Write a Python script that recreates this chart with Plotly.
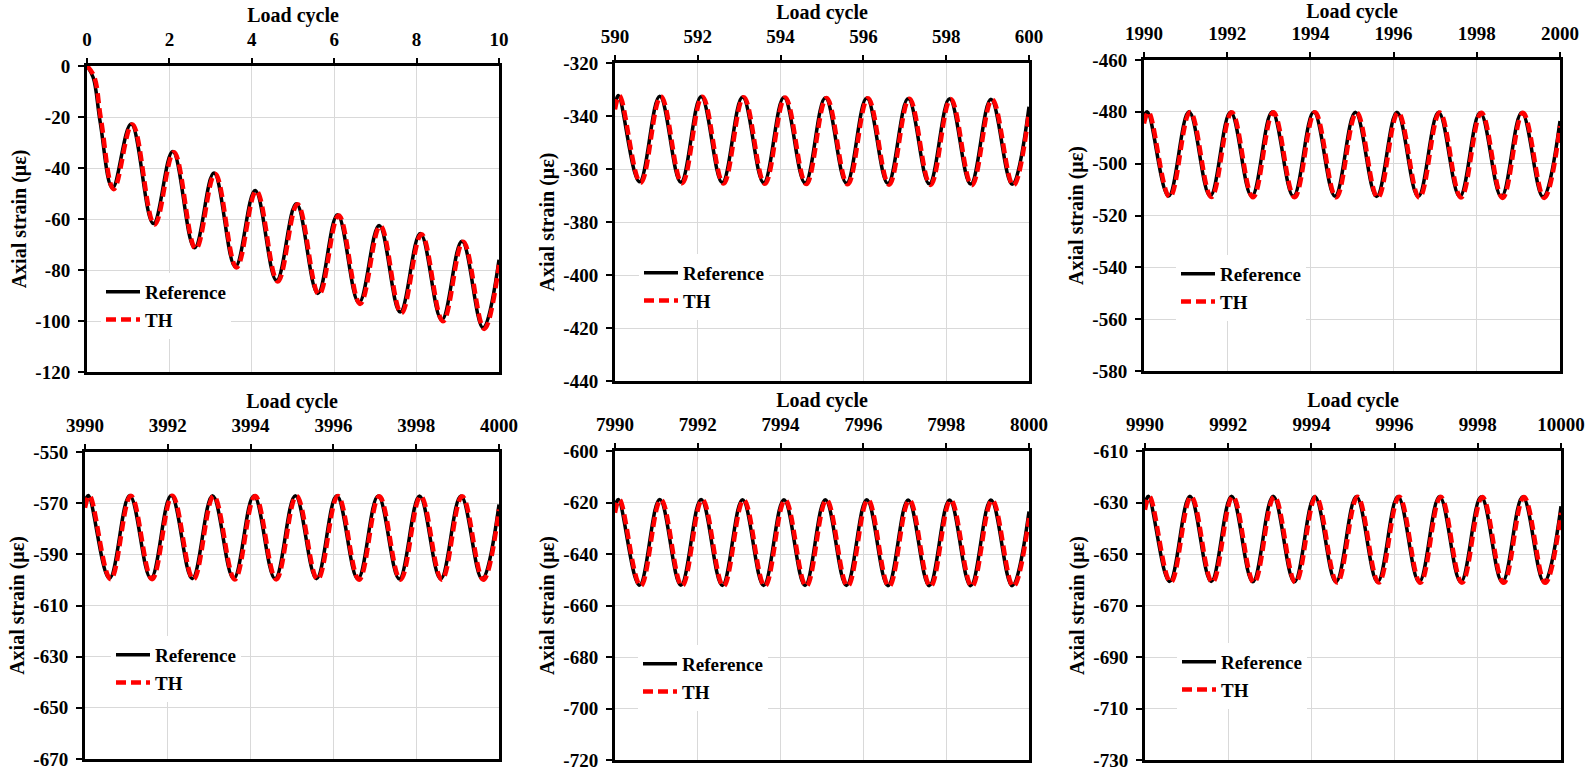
import plotly.graph_objects as go

W, H = 1591, 771

# ---------------- data ----------------
PANEL_START = [0, 590, 1990, 3990, 7990, 9990]

X_TICKS = [
    [0, 2, 4, 6, 8, 10],
    [590, 592, 594, 596, 598, 600],
    [1990, 1992, 1994, 1996, 1998, 2000],
    [3990, 3992, 3994, 3996, 3998, 4000],
    [7990, 7992, 7994, 7996, 7998, 8000],
    [9990, 9992, 9994, 9996, 9998, 10000],
]
Y_TICKS = [
    [0, -20, -40, -60, -80, -100, -120],
    [-320, -340, -360, -380, -400, -420, -440],
    [-460, -480, -500, -520, -540, -560, -580],
    [-550, -570, -590, -610, -630, -650, -670],
    [-600, -620, -640, -660, -680, -700, -720],
    [-610, -630, -650, -670, -690, -710, -730],
]

# panel 1: first ten cycles (positions in cycles, strain in microstrain)
P1_REF_X = [0.0, 0.15, 0.32, 0.62, 1.07, 1.61, 2.08, 2.61, 3.08, 3.60, 4.08, 4.60,
            5.08, 5.60, 6.08, 6.60, 7.09, 7.60, 8.09, 8.61, 9.10, 9.61, 10.0]
P1_REF_Y = [0.0, -4.5, -22.0, -47.8, -22.7, -61.8, -33.5, -71.3, -42.0, -78.7, -48.8, -84.1,
            -54.0, -89.2, -58.3, -92.8, -62.5, -96.5, -65.7, -99.6, -68.7, -102.6, -76.0]
P1_TH_X = [0.0, 0.17, 0.34, 0.65, 1.10, 1.64, 2.11, 2.64, 3.11, 3.63, 4.11, 4.63,
           5.11, 5.63, 6.11, 6.63, 7.12, 7.63, 8.12, 8.64, 9.13, 9.64, 10.0]
P1_TH_Y = [0.0, -4.0, -21.0, -48.3, -22.9, -62.2, -33.8, -71.7, -42.3, -79.0, -49.0, -84.5,
           -54.2, -89.6, -58.6, -93.3, -62.7, -96.9, -66.0, -100.1, -68.9, -103.1, -78.0]

# later panels: start, peak/trough pairs, end (positions in cycles after panel start)
REF_PHASE = [0.0, 0.08, 0.59, 1.08, 1.59, 2.08, 2.59, 3.08, 3.59, 4.08, 4.59, 5.08, 5.59,
             6.08, 6.59, 7.08, 7.59, 8.08, 8.59, 9.08, 9.59, 10.0]
TH_PHASE = [0.0, 0.11, 0.62, 1.11, 1.62, 2.11, 2.62, 3.11, 3.62, 4.11, 4.62, 5.11, 5.62,
            6.11, 6.62, 7.11, 7.62, 8.11, 8.62, 9.11, 9.62, 10.0]

P2_REF = [-336.0, -332.3, -364.8, -332.5, -365.0, -332.6, -365.1, -332.8, -365.2, -332.9, -365.3,
          -333.1, -365.4, -333.2, -365.5, -333.4, -365.6, -333.5, -365.7, -333.7, -365.8, -336.5]
P2_TH = [-337.5, -332.4, -365.2, -332.6, -365.4, -332.7, -365.5, -332.9, -365.6, -333.0, -365.7,
         -333.2, -365.8, -333.3, -365.9, -333.5, -366.0, -333.6, -366.1, -333.8, -366.2, -338.5]
P3_REF = [-481.5, -480.0, -512.5, -480.0, -512.5, -480.1, -512.6, -480.1, -512.6, -480.1, -512.6,
          -480.2, -512.7, -480.2, -512.7, -480.2, -512.7, -480.3, -512.8, -480.3, -512.8, -483.5]
P3_TH = [-484.5, -480.1, -512.9, -480.1, -512.9, -480.2, -513.0, -480.2, -513.0, -480.2, -513.0,
         -480.3, -513.1, -480.3, -513.1, -480.3, -513.1, -480.4, -513.2, -480.4, -513.2, -485.5]
P4_REF = [-569.5, -567.0, -599.4, -567.0, -599.4, -567.0, -599.5, -567.1, -599.5, -567.1, -599.5,
          -567.1, -599.5, -567.1, -599.6, -567.2, -599.6, -567.2, -599.6, -567.2, -599.6, -570.5]
P4_TH = [-571.8, -567.1, -599.7, -567.1, -599.7, -567.1, -599.8, -567.2, -599.8, -567.2, -599.8,
         -567.2, -599.8, -567.2, -599.9, -567.3, -599.9, -567.3, -599.9, -567.3, -599.9, -572.5]
P5_REF = [-621.5, -618.8, -652.1, -618.8, -652.1, -618.8, -652.2, -618.9, -652.2, -618.9, -652.2,
          -618.9, -652.2, -618.9, -652.3, -619.0, -652.3, -619.0, -652.3, -619.0, -652.3, -623.5]
P5_TH = [-624.0, -618.9, -652.4, -618.9, -652.4, -618.9, -652.5, -619.0, -652.5, -619.0, -652.5,
         -619.0, -652.5, -619.0, -652.6, -619.1, -652.6, -619.1, -652.6, -619.1, -652.6, -626.0]
P6_REF = [-630.5, -627.6, -660.7, -627.6, -660.7, -627.6, -660.8, -627.6, -660.8, -627.7, -660.8,
          -627.7, -660.8, -627.7, -660.9, -627.7, -660.9, -627.8, -660.9, -627.8, -660.9, -631.5]
P6_TH = [-632.8, -627.7, -661.0, -627.7, -661.0, -627.7, -661.1, -627.7, -661.1, -627.8, -661.1,
         -627.8, -661.1, -627.8, -661.2, -627.8, -661.2, -627.9, -661.2, -627.9, -661.2, -634.0]

LATER_REF = [P2_REF, P3_REF, P4_REF, P5_REF, P6_REF]
LATER_TH = [P2_TH, P3_TH, P4_TH, P5_TH, P6_TH]

# ---------------- layout constants (pixels) ----------------
# plot boxes: left, right, top, bottom
BOX = [
    (87, 499, 66, 372),
    (615, 1029, 63, 381),
    (1144, 1560, 60, 371),
    (85, 499, 452, 759),
    (615, 1029, 451, 760),
    (1145, 1561, 451, 760),
]
# legend: left of line sample, centre of first row
LEG = [(107, 287), (645, 268), (1182, 269), (117, 650), (644, 659), (1183, 657)]

FONT = "Liberation Serif, Times New Roman, serif"

fig = go.Figure()

series = []
series.append((P1_REF_X, P1_REF_Y, P1_TH_X, P1_TH_Y))
for k in range(5):
    s = PANEL_START[k + 1]
    series.append(([s + p for p in REF_PHASE], LATER_REF[k],
                   [s + p for p in TH_PHASE], LATER_TH[k]))

for i, (rx, ry, tx, ty) in enumerate(series):
    n = "" if i == 0 else str(i + 1)
    leg = "legend" + n
    fig.add_trace(go.Scatter(
        x=rx, y=ry, mode="lines", name="Reference",
        line=dict(color="black", width=3.5, shape="spline", smoothing=1.1),
        xaxis="x" + n, yaxis="y" + n, legend=leg))
    fig.add_trace(go.Scatter(
        x=tx, y=ty, mode="lines", name="TH",
        line=dict(color="#ff0000", width=4.5, dash="10px,5px", shape="spline", smoothing=1.1),
        xaxis="x" + n, yaxis="y" + n, legend=leg))

layout = dict(
    width=W, height=H,
    margin=dict(l=0, r=0, t=0, b=0),
    paper_bgcolor="white", plot_bgcolor="white",
    font=dict(family=FONT, size=19, color="black", weight="bold"),
)

for i in range(6):
    n = "" if i == 0 else str(i + 1)
    l, r, t, b = BOX[i]
    yt = Y_TICKS[i]
    xt = X_TICKS[i]
    layout["xaxis" + n] = dict(
        domain=[l / W, r / W], anchor="y" + n, side="top",
        range=[xt[0], xt[-1]],
        tickvals=xt, ticktext=[str(v) for v in xt],
        ticks="outside", ticklen=5, tickwidth=2, tickcolor="black",
        ticklabelstandoff=4,
        showline=True, linewidth=3, linecolor="black", mirror=True,
        showgrid=True, gridcolor="#d9d9d9", gridwidth=1, zeroline=False,
        tickfont=dict(family=FONT, size=19, color="black", weight="bold"),
        title=dict(text="Load cycle", standoff=2,
                   font=dict(family=FONT, size=20, color="black", weight="bold")),
        automargin=False,
    )
    layout["yaxis" + n] = dict(
        domain=[1 - b / H, 1 - t / H], anchor="x" + n,
        range=[min(yt), max(yt)],
        tickvals=yt, ticktext=[str(v) for v in yt],
        ticks="outside", ticklen=6, tickwidth=2, tickcolor="black",
        ticklabelstandoff=4,
        showline=True, linewidth=3, linecolor="black", mirror=True,
        showgrid=True, gridcolor="#d9d9d9", gridwidth=1, zeroline=False,
        tickfont=dict(family=FONT, size=19, color="black", weight="bold"),
        title=dict(text="Axial strain (με)", standoff=4,
                   font=dict(family=FONT, size=20, color="black", weight="bold")),
        automargin=False,
    )
    lx, ly = LEG[i]
    layout["legend" + n] = dict(
        x=(lx - 6) / W, y=1 - (ly - 14) / H, xanchor="left", yanchor="top",
        bgcolor="white", borderwidth=0, tracegroupgap=0, itemwidth=34,
        font=dict(family=FONT, size=19, color="black", weight="bold"),
    )

fig.update_layout(**layout)
fig.write_html("out.html")
